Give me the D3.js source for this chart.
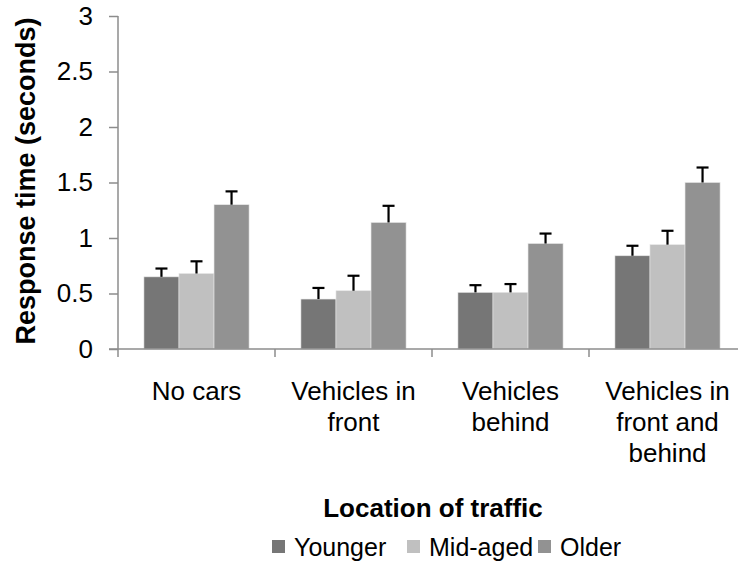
<!DOCTYPE html>
<html>
<head>
<meta charset="utf-8">
<script src="https://cdn.jsdelivr.net/npm/d3@7"></script>
<style>
  body { margin: 0; background: #fff; }
  svg text { font-family: "Liberation Sans", Arial, sans-serif; fill: #000; }
</style>
</head>
<body>
<svg id="chart" width="738" height="567"></svg>
<script>
// categories (x axis), one label line per entry
var categories = [
    ['No cars'],
    ['Vehicles in', 'front'],
    ['Vehicles', 'behind'],
    ['Vehicles in', 'front and', 'behind']
];
var seriesNames = ['Younger', 'Mid-aged', 'Older'];
var seriesColors = ['#767676', '#c0c0c0', '#929292'];

// mean response time per category, one array per age group
var younger = [0.65, 0.45, 0.51, 0.84];
var midAged = [0.68, 0.525, 0.51, 0.94];
var older = [1.30, 1.14, 0.95, 1.50];

// error bar sizes (upper only)
var youngerErr = [0.075, 0.10, 0.065, 0.09];
var midAgedErr = [0.11, 0.135, 0.075, 0.125];
var olderErr = [0.12, 0.15, 0.09, 0.135];

var yTicks = [0, 0.5, 1, 1.5, 2, 2.5, 3];

(function () {
    var svg = d3.select('#chart');

    var plotLeft = 118, plotRight = 746, plotTop = 16, plotBottom = 349;
    var axisColor = '#8c8c8c';

    var x = d3.scaleBand()
        .domain(d3.range(categories.length))
        .range([plotLeft, plotRight])
        .paddingInner(0)
        .paddingOuter(0);

    // 3 bars of ~35px in a 157px category, gap of ~26px on each side
    var x1 = d3.scaleBand()
        .domain(d3.range(seriesNames.length))
        .range([0, x.bandwidth()])
        .paddingOuter(0.74)
        .paddingInner(0);

    var y = d3.scaleLinear().domain([0, 3]).range([plotBottom, plotTop]);

    var values = [younger, midAged, older];
    var errors = [youngerErr, midAgedErr, olderErr];

    // flatten into cells for drawing
    var cells = [];
    values.forEach(function (arr, s) {
        arr.forEach(function (v, c) {
            cells.push({s: s, c: c, v: v, e: errors[s][c]});
        });
    });

    function midX(d) { return x(d.c) + x1(d.s) + x1.bandwidth() / 2; }

    // bars
    svg.append('g').selectAll('rect')
        .data(cells)
        .enter().append('rect')
        .attr('x', function (d) { return x(d.c) + x1(d.s); })
        .attr('y', function (d) { return y(d.v); })
        .attr('width', x1.bandwidth())
        .attr('height', function (d) { return y(0) - y(d.v); })
        .attr('fill', function (d) { return seriesColors[d.s]; })
        .attr('stroke', '#e6e6e6')
        .attr('stroke-width', 0.6);

    // error bars
    var err = svg.append('g').attr('stroke', '#000').attr('stroke-width', 2.2);
    err.selectAll('line.stem')
        .data(cells)
        .enter().append('line')
        .attr('class', 'stem')
        .attr('x1', midX)
        .attr('x2', midX)
        .attr('y1', function (d) { return y(d.v); })
        .attr('y2', function (d) { return y(d.v + d.e); });
    err.selectAll('line.cap')
        .data(cells)
        .enter().append('line')
        .attr('class', 'cap')
        .attr('x1', function (d) { return midX(d) - 6; })
        .attr('x2', function (d) { return midX(d) + 6; })
        .attr('y1', function (d) { return y(d.v + d.e); })
        .attr('y2', function (d) { return y(d.v + d.e); });

    // y axis
    var yAxis = svg.append('g')
        .attr('transform', 'translate(' + plotLeft + ',0)')
        .call(d3.axisLeft(y).tickValues(yTicks).tickSize(9).tickPadding(16).tickFormat(String));
    yAxis.select('.domain').remove();
    yAxis.append('line')
        .attr('x1', 0).attr('x2', 0)
        .attr('y1', y(3)).attr('y2', y(0))
        .attr('stroke', axisColor).attr('stroke-width', 1.5);
    yAxis.selectAll('.tick line').attr('stroke', axisColor).attr('stroke-width', 1.5);
    yAxis.selectAll('.tick text').attr('font-size', 26).attr('fill', '#000')
        .attr('font-family', '"Liberation Sans", Arial, sans-serif');

    // x axis
    var xAxisG = svg.append('g');
    xAxisG.append('line')
        .attr('x1', plotLeft - 9).attr('x2', plotRight)
        .attr('y1', plotBottom).attr('y2', plotBottom)
        .attr('stroke', axisColor).attr('stroke-width', 1.5);
    xAxisG.selectAll('line.tick')
        .data(d3.range(categories.length + 1))
        .enter().append('line')
        .attr('class', 'tick')
        .attr('x1', function (i) { return plotLeft + i * x.bandwidth(); })
        .attr('x2', function (i) { return plotLeft + i * x.bandwidth(); })
        .attr('y1', plotBottom).attr('y2', plotBottom + 8)
        .attr('stroke', axisColor).attr('stroke-width', 1.5);

    var catLabels = xAxisG.selectAll('text.cat')
        .data(categories)
        .enter().append('text')
        .attr('class', 'cat')
        .attr('text-anchor', 'middle')
        .attr('font-size', 26)
        .attr('transform', function (d, i) { return 'translate(' + (x(i) + x.bandwidth() / 2) + ',400)'; });
    catLabels.selectAll('tspan')
        .data(function (d) { return d; })
        .enter().append('tspan')
        .attr('x', 0)
        .attr('dy', function (d, i) { return i === 0 ? 0 : 31; })
        .text(function (d) { return d; });

    // axis titles
    svg.append('text')
        .attr('text-anchor', 'middle')
        .attr('font-size', 27)
        .attr('font-weight', 'bold')
        .attr('transform', 'translate(35,181) rotate(-90)')
        .text('Response time (seconds)');

    svg.append('text')
        .attr('text-anchor', 'middle')
        .attr('font-size', 26)
        .attr('font-weight', 'bold')
        .attr('x', 433)
        .attr('y', 517)
        .text('Location of traffic');

    // legend
    var legendX = [272, 407, 538];
    var legend = svg.append('g').selectAll('g')
        .data(seriesNames)
        .enter().append('g')
        .attr('transform', function (d, i) { return 'translate(' + legendX[i] + ',540)'; });
    legend.append('rect')
        .attr('width', 13).attr('height', 13)
        .attr('fill', function (d, i) { return seriesColors[i]; });
    legend.append('text')
        .attr('x', 22)
        .attr('y', 16)
        .attr('font-size', 25)
        .text(function (d) { return d; });
})();
</script>
</body>
</html>
